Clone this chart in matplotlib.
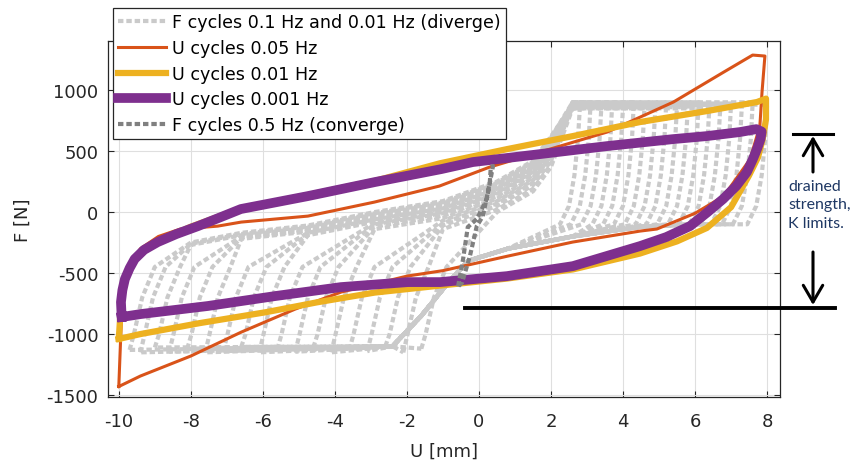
import numpy as np
import matplotlib
matplotlib.use("Agg")
from matplotlib import pyplot as plt
from matplotlib.lines import Line2D
from matplotlib.patches import FancyArrowPatch

plt.rcParams['font.family'] = ['DejaVu Sans']
plt.rcParams['axes.unicode_minus'] = False

# ---- U cycles 0.05 Hz (orange loop)
u005_x = [-10.0, -9.97, -9.93, -9.88, -9.7, -9.4, -8.9, -8.3, -7.25, -6.6, -4.75, -2.9,
          -1.1, 0.3, 1.7, 3.56, 5.4, 6.8, 7.6, 7.94, 7.86, 7.8, 7.53, 6.8, 6.0, 4.94,
          4.47, 2.6, 0.8, -1.0, -2.0, -3.83, -5.1, -6.6, -8.0, -9.4, -10.0]
u005_y = [-1430, -1200, -900, -650, -450, -300, -200, -140, -115, -82, -33, 82,
          213, 369, 492, 656, 902, 1148, 1287, 1279, 983, 705, 434, 131, -10, -139,
          -156, -246, -361, -480, -525, -656, -795, -984, -1180, -1344, -1430]

# ---- U cycles 0.01 Hz (yellow loop)
u001_x = [-10.0, -9.97, -9.95, -9.88, -9.6, -9.0, -8.0, -6.6, -4.75, -2.9, -1.08, 0.78,
          2.61, 4.47, 6.33, 7.72, 7.97, 7.97, 7.88, 7.75, 7.5, 7.0, 6.33, 5.5, 4.47,
          2.61, 0.78, -1.0, -2.9, -4.5, -5.9, -7.75, -9.4, -10.0]
u001_y = [-1040, -900, -760, -580, -400, -250, -120, 30, 140, 255, 400, 516,
          623, 738, 828, 902, 930, 760, 600, 450, 300, 40, -130, -240, -340,
          -470, -545, -600, -660, -740, -820, -910, -1000, -1040]

# ---- U cycles 0.001 Hz (purple loop)
u0001_x = [-9.92, -9.94, -9.9, -9.83, -9.7, -9.56, -9.3, -8.92, -8.4, -7.8, -7.2, -6.61,
           -4.75, -2.89, -1.05, -0.17, 1.69, 3.56, 5.39, 6.33, 7.25, 7.7, 7.85, 7.82,
           7.72, 7.6, 7.44, 7.15, 6.78, 6.35, 5.86, 5.2, 4.47, 2.61, 0.78, -1.08, -1.97,
           -3.83, -5.67, -7.53, -9.39, -9.92]
u0001_y = [-860, -738, -640, -549, -460, -385, -310, -246, -180, -115, -45, 25,
           131, 246, 352, 410, 475, 541, 598, 623, 656, 680, 660, 600,
           516, 430, 328, 215, 107, 0, -115, -205, -279, -443, -525, -574, -574,
           -615, -689, -770, -836, -860]

# ---- F cycles 0.5 Hz (converge, dark grey)
f05_x = [-0.58, -0.44, -0.31, -0.06, 0.22, 0.39, 0.33, 0.30, 0.11, -0.06, -0.25, -0.47, -0.58]
f05_y = [-610, -385, -123, -57, 107, 377, 370, 240, -33, -115, -360, -580, -610]

# ---- F cycles 0.1 / 0.01 Hz (diverge, light grey): loop turning points
gray_a = [-1.6, -2.1, -2.6, -3.1, -3.6, -4.1, -4.6, -5.1, -5.6, -6.1, -6.6,
          -7.1, -7.6, -8.1, -8.6, -9.0, -9.4, -9.7]
gray_b = [2.8, 3.1, 3.4, 3.7, 4.0, 4.3, 4.6, 4.9, 5.2, 5.5, 5.8,
          6.1, 6.4, 6.7, 7.0, 7.3, 7.6, 8.0]
gray_d = [-250, -230, -200, -180, -160, -140, -120, -100, -90, -80, -70,
          -60, -50, -40, -30, -20, -10, 0]
gray_hi = [850, 900, 870, 890, 860, 900, 880, 850, 895, 870, 860,
           900, 880, 850, 890, 870, 900, 880]
gray_lo = [-1120, -1150, -1100, -1140, -1130, -1150, -1110, -1145, -1125, -1150,
           -1105, -1140, -1150, -1120, -1145, -1110, -1150, -1130]
# shared upper (reloading) and lower (unloading) bands
ub_x = [-9.0, -8.0, -6.6, -4.75, -2.9, -1.0, 0.5, 1.5, 2.0]
ub_y = [-330, -250, -170, -110, 0, 90, 250, 420, 620]
lb_x = [6.0, 4.5, 2.6, 0.8, -0.3, -0.8, -1.6, -2.4]
lb_y = [-100, -120, -200, -300, -400, -560, -850, -1100]
# shape of the reload / unload strands (offsets from the turning points)
rl_dx = [0.12, 0.35, 0.7]
rl_y = [-1000, -700, -450]
ul_dx = [0.05, 0.15, 0.3, 0.55]
ul_y = [600, 300, 50, -100]

C_OR = '#D95319'
C_YE = '#EDB120'
C_PU = '#7E2F8E'
C_LG = '#CACACA'
C_DG = '#808080'
AXC = '#262626'

fig = plt.figure(figsize=(8.51, 4.64), dpi=100)
ax = fig.add_axes([0.1269, 0.1422, 0.7897, 0.7672])

first = True
for a, b, d, hi, lo in zip(gray_a, gray_b, gray_d, gray_hi, gray_lo):
    xs = [a] + [a + dx for dx in rl_dx]
    ys = [lo] + rl_y
    for x, y in zip(ub_x, ub_y):
        if x > a + 0.9:
            xs.append(x)
            ys.append(y + d)
    xs += [2.6, b] + [b - dx for dx in ul_dx]
    ys += [hi, hi] + ul_y
    for x, y in zip(lb_x, lb_y):
        if x < b - 0.9:
            xs.append(x)
            ys.append(y)
    xs.append(a)
    ys.append(lo)
    ax.plot(xs, ys, color=C_LG, lw=3, linestyle=(0, (1.3, 0.7)), dash_capstyle='butt',
            label='F cycles 0.1 Hz and 0.01 Hz (diverge)' if first else None)
    first = False

ax.plot(u005_x, u005_y, color=C_OR, lw=2.2, label='U cycles 0.05 Hz')
ax.plot(u001_x, u001_y, color=C_YE, lw=4.5, label='U cycles 0.01 Hz')
ax.plot(u0001_x, u0001_y, color=C_PU, lw=7, label='U cycles 0.001 Hz')
ax.plot(f05_x, f05_y, color=C_DG, lw=3, linestyle=(0, (1.3, 0.7)), dash_capstyle='butt',
        label='F cycles 0.5 Hz (converge)')

ax.set_xlim(-10.3, 8.36)
ax.set_ylim(-1516, 1402)
ax.set_xticks(np.arange(-10, 9, 2))
ax.set_yticks(np.arange(-1500, 1001, 500))
ax.grid(True, color='#DFDFDF', lw=0.8)
ax.set_axisbelow(True)
ax.tick_params(direction='in', length=4, top=True, right=True, labelsize=13,
               colors=AXC, width=0.8)
ax.tick_params(axis='y', pad=7)
ax.tick_params(axis='x', pad=11)
for s in ax.spines.values():
    s.set_color(AXC)
    s.set_linewidth(0.9)
ax.set_xlabel('U [mm]', fontsize=13, color=AXC)
ax.set_ylabel('F [N]', fontsize=13, color=AXC)
ax.xaxis.set_label_coords(0.5, -0.15)
ax.xaxis.label.set_va('center')
ax.yaxis.set_label_coords(-0.1265, 0.5)
ax.yaxis.label.set_va('center')

leg = ax.legend(loc='upper left', bbox_to_anchor=(0.1328, 0.9806), bbox_transform=fig.transFigure,
                borderaxespad=0, fontsize=12.6, frameon=True, fancybox=False, framealpha=1,
                edgecolor=AXC, handlelength=2.75, handletextpad=0.3, labelspacing=0.44,
                borderpad=0.3)
leg.get_frame().set_linewidth(0.9)


def fx(px):
    return px / 851.0


def fy(py):
    return 1 - py / 464.0


# annotations on the right (figure pixel positions)
fig.add_artist(Line2D([fx(465), fx(835)], [fy(309), fy(309)], color='black', lw=2.8,
                      transform=fig.transFigure))
fig.add_artist(Line2D([fx(793), fx(833)], [fy(135), fy(135)], color='black', lw=2.2,
                      transform=fig.transFigure))
arr = dict(arrowstyle='->,head_length=0.6,head_width=0.35', color='black', lw=2.2,
           shrinkA=0, shrinkB=0, mutation_scale=20)
fig.add_artist(FancyArrowPatch((fx(813), fy(173)), (fx(813), fy(137)),
                               transform=fig.transFigure, **arr))
fig.add_artist(FancyArrowPatch((fx(813), fy(253)), (fx(813), fy(306)),
                               transform=fig.transFigure, **arr))
fig.text(fx(788), fy(180), 'drained\nstrength,\nK limits.', fontsize=11.5, color='#1F3864',
         family=['Lato', 'DejaVu Sans'], va='top', ha='left', linespacing=1.4)

fig.savefig('out.png', dpi=100)
